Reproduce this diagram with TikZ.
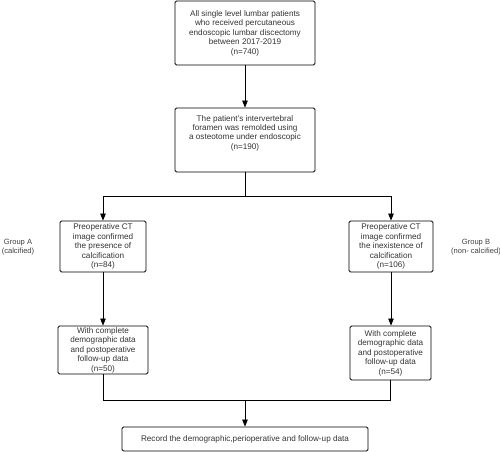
\documentclass[tikz,border=0pt]{standalone}
\usepackage{fontspec}
\setmainfont{Liberation Sans}
\usetikzlibrary{arrows.meta}

\begin{document}
\begin{tikzpicture}[x=1bp, y=1bp,
    box/.style={draw, rounded corners=1.5bp, line width=0.8bp, align=center,
        text=black!80, inner sep=1bp, font=\fontsize{8.2}{9.5}\selectfont},
    grp/.style={align=center, text=black!75, font=\fontsize{7.6}{9.5}\selectfont},
    arr/.style={line width=0.8bp, -{Triangle[length=7bp,width=5.5bp]}},
    ln/.style={line width=0.8bp}]
    \useasboundingbox (0,0) rectangle (500,452);

    % Boxes
    \node[box, minimum width=140bp, minimum height=64bp] (all) at (245,419)
        {All single level lumbar patients\\who received percutaneous\\endoscopic lumbar discectomy\\between 2017-2019\\(n=740)};
    \node[box, minimum width=140bp, minimum height=64bp] (remold) at (245,312)
        {The patient's intervertebral\\foramen was remolded using\\a osteotome under endoscopic\\(n=190)\\[6bp]};
    \node[box, minimum width=86bp, minimum height=51bp] (ctA) at (103,205.5)
        {Preoperative CT\\image confirmed\\the presence of\\calcification\\(n=84)};
    \node[box, minimum width=84bp, minimum height=51bp] (ctB) at (391,205.5)
        {Preoperative CT\\image confirmed\\the inexistence of\\calcification\\(n=106)};
    \node[box, minimum width=90bp, minimum height=48bp] (dataA) at (103,102)
        {With complete\\demographic data\\and postoperative\\follow-up data\\(n=50)};
    \node[box, minimum width=81bp, minimum height=54bp] (dataB) at (390.5,99)
        {With complete\\demographic data\\and postoperative\\follow-up data\\(n=54)};
    \node[box, minimum width=246bp, minimum height=24bp] (record) at (245,13)
        {Record the demographic,perioperative and follow-up data};

    % Group labels
    \node[grp] (grpA) at (18,205) {Group A\\(calcified)};
    \node[grp] (grpB) at (476,205) {Group B\\(non- calcified)};

    % Connectors
    \coordinate (split) at (245,256);
    \coordinate (merge) at (245,52);
    \draw[arr] (all) -- (remold);
    \draw[ln] (remold) -- (split);
    \draw[arr] (split) -| (ctA);
    \draw[arr] (split) -| (ctB);
    \draw[arr] (ctA) -- (dataA);
    \draw[arr] (ctB) -- (ctB |- dataB.north);
    \draw[ln] (dataA) |- (merge);
    \draw[ln] (dataB) |- (merge);
    \draw[arr] (merge) -- (record);
\end{tikzpicture}
\end{document}
